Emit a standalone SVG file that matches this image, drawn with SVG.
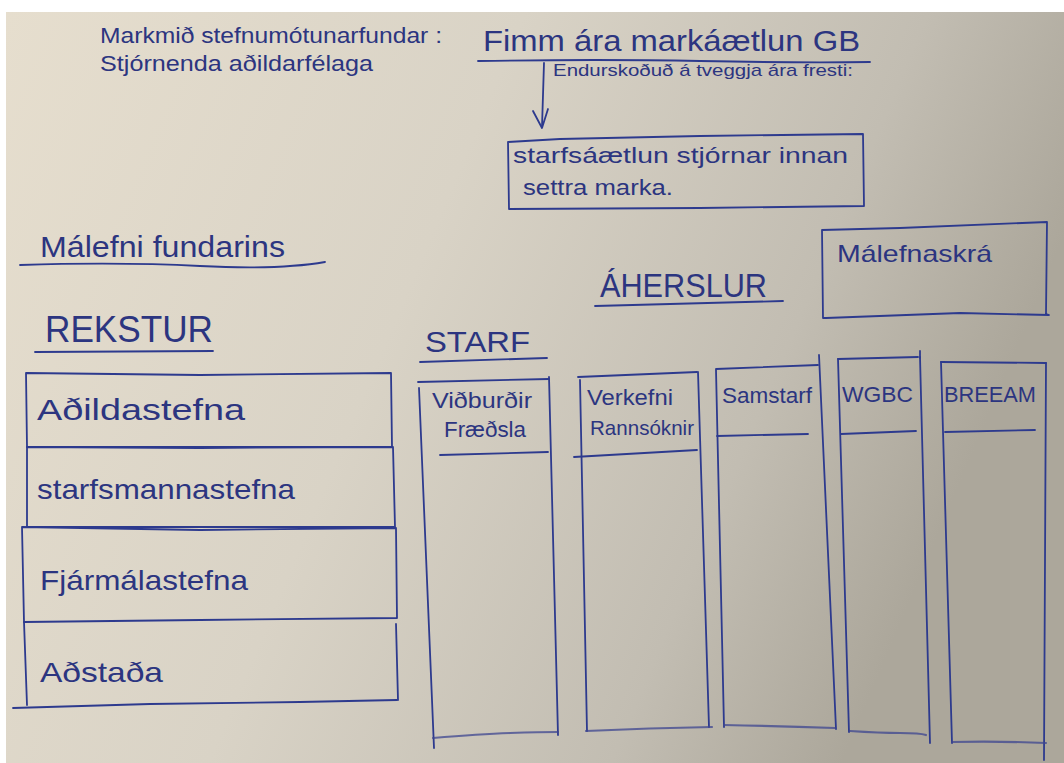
<svg xmlns="http://www.w3.org/2000/svg" width="1064" height="763" viewBox="0 0 1064 763">
<defs>
<linearGradient id="paper" x1="0" y1="0" x2="1" y2="0.3">
<stop offset="0" stop-color="#e6dece"/>
<stop offset="0.45" stop-color="#d9d3c6"/>
<stop offset="0.8" stop-color="#c2bdb2"/>
<stop offset="1" stop-color="#aca79b"/>
</linearGradient>
<style>
.ink{fill:none;stroke:#2d3a8e;stroke-width:1.8;stroke-linecap:round;stroke-linejoin:round}
.soft{fill:none;stroke:#3d4690;stroke-width:2.2;stroke-opacity:0.75;stroke-linecap:round}
.t{font-family:"Liberation Sans","DejaVu Sans",sans-serif;fill:#2c3580}
</style>
</defs>
<rect x="0" y="0" width="1064" height="763" fill="#ffffff"/>
<rect x="6" y="12" width="1058" height="751" fill="url(#paper)"/>

<g id="goal">
<text class="t" x="100" y="43" font-size="22" textLength="342" lengthAdjust="spacingAndGlyphs">Markmið stefnumótunarfundar :</text>
<text class="t" x="100" y="71" font-size="22" textLength="273" lengthAdjust="spacingAndGlyphs">Stjórnenda aðildarfélaga</text>
</g>

<g id="plan">
<text class="t" x="483" y="51" font-size="30" textLength="377" lengthAdjust="spacingAndGlyphs">Fimm ára markáætlun GB</text>
<path class="ink" d="M478,61 Q600,59 700,61 T870,62"/>
<text class="t" x="553" y="76" font-size="17" textLength="300" lengthAdjust="spacingAndGlyphs">Endurskoðuð á tveggja ára fresti:</text>
</g>

<g id="connectors">
<path class="ink" d="M544,63 L542,127"/>
<path class="ink" d="M533,111 L542,128 L548,109"/>
</g>

<g id="board-plan">
<path class="ink" d="M508,142 L560,139 L700,136 L863,134 L864,206 L700,208 L509,209 Z"/>
<text class="t" x="513" y="163" font-size="22" textLength="335" lengthAdjust="spacingAndGlyphs">starfsáætlun stjórnar innan</text>
<text class="t" x="523" y="195" font-size="22" textLength="150" lengthAdjust="spacingAndGlyphs">settra marka.</text>
</g>

<g id="topics-heading">
<text class="t" x="40" y="257" font-size="30" textLength="245" lengthAdjust="spacingAndGlyphs">Málefni fundarins</text>
<path class="ink" d="M20,265 Q120,262 200,266 T325,262"/>
</g>

<g id="malefnaskra">
<path class="ink" d="M822,230 L900,228 L1047,222 L1046,314 L1049,315 L960,313 L826,318 L823,318 Z"/>
<text class="t" x="837" y="262" font-size="24" textLength="155" lengthAdjust="spacingAndGlyphs">Málefnaskrá</text>
</g>

<g id="aherslur">
<text class="t" x="600" y="297" font-size="33" textLength="167" lengthAdjust="spacingAndGlyphs">ÁHERSLUR</text>
<path class="ink" d="M595,306 Q700,303 783,301"/>
</g>

<g id="rekstur">
<text class="t" x="45" y="342" font-size="36" textLength="168" lengthAdjust="spacingAndGlyphs">REKSTUR</text>
<path class="ink" d="M35,352 L213,351"/>
</g>

<g id="adildastefna">
<path class="ink" d="M26,373 L200,375 L391,373 L392,447 L27,447 Z"/>
<text class="t" x="37" y="420" font-size="30" textLength="208" lengthAdjust="spacingAndGlyphs">Aðildastefna</text>
</g>
<g id="starfsmannastefna">
<path class="ink" d="M27,447 L200,448 L393,447 L395,527 L27,527 Z"/>
<text class="t" x="37" y="499" font-size="28" textLength="258" lengthAdjust="spacingAndGlyphs">starfsmannastefna</text>
</g>
<g id="fjarmalastefna">
<path class="ink" d="M22,527 L200,530 L396,528 L397,618 L200,620 L24,622 Z"/>
<text class="t" x="40" y="590" font-size="28" textLength="208" lengthAdjust="spacingAndGlyphs">Fjármálastefna</text>
</g>
<g id="adstada">
<path class="ink" d="M24,622 L27,705"/>
<path class="ink" d="M396,624 L398,700"/>
<path class="ink" d="M13,708 L150,704 L300,702 L397,700"/>
<text class="t" x="40" y="682" font-size="28" textLength="123" lengthAdjust="spacingAndGlyphs">Aðstaða</text>
</g>

<g id="starf">
<text class="t" x="425" y="352" font-size="30" textLength="105" lengthAdjust="spacingAndGlyphs">STARF</text>
<path class="ink" d="M420,362 L547,358"/>
</g>

<g id="col-vidburdir">
<path class="ink" d="M418,382 L549,379"/>
<path class="ink" d="M419,388 L434,748"/>
<path class="ink" d="M549,377 L558,735"/>
<path class="ink" d="M440,455 L548,452"/>
<path class="soft" d="M433,738 Q480,734 510,733 T558,732"/>
<text class="t" x="432" y="408" font-size="22" textLength="100" lengthAdjust="spacingAndGlyphs">Viðburðir</text>
<text class="t" x="444" y="437" font-size="22" textLength="82" lengthAdjust="spacingAndGlyphs">Fræðsla</text>
</g>

<g id="col-verkefni">
<path class="ink" d="M578,377 L697,372"/>
<path class="ink" d="M580,380 L587,731"/>
<path class="ink" d="M698,372 L709,727"/>
<path class="ink" d="M574,457 L697,450"/>
<path class="soft" d="M586,731 Q650,728 712,727"/>
<text class="t" x="587" y="405" font-size="22" textLength="86" lengthAdjust="spacingAndGlyphs">Verkefni</text>
<text class="t" x="590" y="435" font-size="21" textLength="104" lengthAdjust="spacingAndGlyphs">Rannsóknir</text>
</g>

<g id="col-samstarf">
<path class="ink" d="M716,369 L818,365"/>
<path class="ink" d="M716,370 L724,727"/>
<path class="ink" d="M819,355 L836,729"/>
<path class="ink" d="M717,436 L808,434"/>
<path class="soft" d="M724,725 Q780,726 835,728"/>
<text class="t" x="722" y="403" font-size="22" textLength="90" lengthAdjust="spacingAndGlyphs">Samstarf</text>
</g>

<g id="col-wgbc">
<path class="ink" d="M838,359 L918,357"/>
<path class="ink" d="M920,351 L920,358"/>
<path class="ink" d="M838,359 L849,732"/>
<path class="ink" d="M920,357 L930,743"/>
<path class="ink" d="M841,434 L916,431"/>
<path class="soft" d="M850,731 Q880,733 900,733 T926,735"/>
<text class="t" x="842" y="402" font-size="22" textLength="71" lengthAdjust="spacingAndGlyphs">WGBC</text>
</g>

<g id="col-breeam">
<path class="ink" d="M941,362 L1046,363"/>
<path class="ink" d="M941,362 L952,743"/>
<path class="ink" d="M1046,363 L1044,760"/>
<path class="ink" d="M945,432 L1035,430"/>
<path class="soft" d="M952,742 Q1000,741 1046,743"/>
<text class="t" x="944" y="402" font-size="22" textLength="92" lengthAdjust="spacingAndGlyphs">BREEAM</text>
</g>
</svg>
